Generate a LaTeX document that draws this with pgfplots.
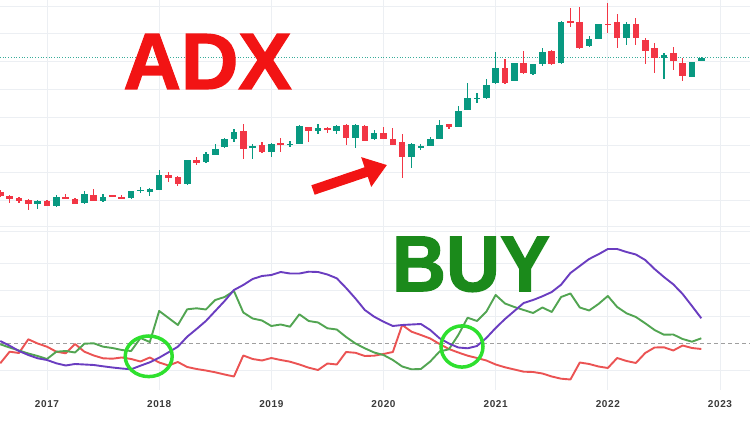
\documentclass[border=0pt]{standalone}
\usepackage{pgfplots}
\pgfplotsset{compat=1.18}
\usepackage{pgfplotstable}
\usepackage{fontspec}
\setmainfont{Liberation Sans}
\newfontfamily\heavyfont[FakeBold=1.6]{Liberation Sans Bold}
\newfontfamily\tickfont[LetterSpace=6]{Liberation Sans Bold}
\usetikzlibrary{arrows.meta}
\definecolor{upc}{HTML}{089981}
\definecolor{dnc}{HTML}{F23645}
\definecolor{gridc}{HTML}{ECEFF3}
\definecolor{adxc}{HTML}{6A3DC0}
\definecolor{pdic}{HTML}{52A552}
\definecolor{mdic}{HTML}{EB5353}
\definecolor{adxred}{HTML}{F21414}
\definecolor{buyg}{HTML}{1B8A1B}
\definecolor{circg}{HTML}{2EE02E}
\definecolor{tickc}{HTML}{3A3A3A}

% candle values (pixel rows of the price pane; larger = lower price)
\pgfplotstableread{
m o h l c
-1 204.3 200 208.7 200.7
1 206 195.3 207.3 197.3
4 203.3 191.3 203.8 194.3
6 201 193.7 202 196.7
9 198.3 190.8 198.8 191.3
10 190.7 187.3 192.7 190
11 191.7 188.5 196 189.3
12 190 170 190.5 175.3
15 184.5 160 185 160.5
17 161.7 151.7 163.3 154.3
18 155 144 155.5 149
19 147.3 138.5 147.8 139
20 139 129 141.7 131.7
22 147.7 144.3 159 146.3
24 152.3 143.2 156.7 143.7
26 144.8 140.7 146.7 144
27 144 125.5 144.5 126
29 130.7 124 134 128.3
31 130.7 125.5 134 126
33 138.3 124.5 148.3 125
35 139.3 130 139.8 133.3
39 156.7 143.2 168.3 143.7
40 147.2 144 150 146.5
41 145.7 136.7 146.2 139
42 139 120 139.5 125
44 126.7 106 127.2 111
45 110 83.3 110.5 98.3
46 98.8 93.3 102.7 98
47 98.3 79.3 98.8 85
48 83.3 52.3 83.8 68.3
50 81 62.8 81.5 63.3
52 74.3 63.8 74.8 64.3
53 64.3 48.3 66.5 51.7
55 63.3 20.7 63.8 21.7
58 46 36 47.3 39.3
59 39 23.8 39.5 24.3
62 37.7 21.7 45 24.3
66 57.7 52.7 79 55
69 76.7 61.8 77.2 62.3
70 61 57.2 61.5 57.7
}\upcandles

\pgfplotstableread{
m o h l c
-5 191.7 190 197.5 196
-4 195.7 195 202.7 199
-3 198.3 197.3 202.7 200.7
-2 200 199.5 210 204.3
0 200.7 200 206.5 205.7
2 197.3 194 199.5 199
3 198.7 198 204.5 204
5 195.3 188.7 201.5 201
7 195.7 195 197 196.3
8 196.7 195 199 198.7
13 174.7 172.3 182.3 177.7
14 177 176.5 186 184.5
16 160 157.3 165 162.7
21 131 124.3 159 149
23 145.3 142.3 152.8 152.3
25 143.3 138.3 152.3 145.3
28 127.3 126.8 141.7 130.7
30 127.7 127.2 133.3 130
32 125 124.5 145 138
34 126 125.5 141.5 141
36 133.3 127.3 139.5 139
37 139 128.3 145.5 145
38 142 134.3 178.3 156.7
43 124.3 123.8 129.3 127.3
49 68.3 59 83.8 83.3
51 62.7 51 73.8 73.3
54 51 50.5 65.5 64.3
56 20.7 8.3 26.7 22.7
57 21.7 7.3 48.8 48.3
60 24 3.3 32.7 25
61 22.3 14.3 48.3 37.7
63 24 18.3 45 38.3
64 40 37.7 64.3 50.7
65 48.3 42.7 73.3 57.7
67 53.3 46.7 70 61
68 62.7 57.7 80.7 76
}\dncandles

\pgfplotsset{candle/.style={draw=none, mark=none, forget plot,
  error bars/.cd, y dir=both, y explicit, error mark=none}}

\begin{document}
\begin{tikzpicture}
\path[use as bounding box] (0,0) rectangle (750pt,422pt);
% ---------------- price pane ----------------
\begin{axis}[
  at={(0pt,422pt)}, anchor=north west,
  width=750pt, height=228pt, scale only axis,
  xmin=-5.028, xmax=75.21, ymin=0, ymax=228, y dir=reverse,
  axis line style={draw=none}, major tick length=0pt,
  xtick={0,12,...,72}, xticklabels={},
  ytick={6.7,33.3,61,89,117,145,172.5,200,226.7}, yticklabels={},
  grid=major, grid style={gridc, line width=0.7pt},
  extra y ticks={57}, extra y tick labels={},
  extra y tick style={grid style={upc!80, dotted, line width=0.6pt}},
]
\addplot[candle, error bar style={line width=1.2pt, draw=upc, solid}]
  table[x=m, y expr={(\thisrow{h}+\thisrow{l})/2}, y error expr={(\thisrow{l}-\thisrow{h})/2}] {\upcandles};
\addplot[candle, error bar style={line width=6.6pt, draw=upc, solid}]
  table[x=m, y expr={(\thisrow{o}+\thisrow{c})/2}, y error expr={max(abs(\thisrow{o}-\thisrow{c})/2,0.7)}] {\upcandles};
\addplot[candle, error bar style={line width=1.2pt, draw=dnc, solid}]
  table[x=m, y expr={(\thisrow{h}+\thisrow{l})/2}, y error expr={(\thisrow{l}-\thisrow{h})/2}] {\dncandles};
\addplot[candle, error bar style={line width=6.6pt, draw=dnc, solid}]
  table[x=m, y expr={(\thisrow{o}+\thisrow{c})/2}, y error expr={max(abs(\thisrow{o}-\thisrow{c})/2,0.7)}] {\dncandles};
\end{axis}
% ---------------- ADX pane ----------------
\begin{axis}[
  at={(0pt,194pt)}, anchor=north west,
  width=750pt, height=162pt, scale only axis,
  xmin=-5.028, xmax=75.21, ymin=228, ymax=390, y dir=reverse,
  axis line style={draw=none}, major tick length=0pt,
  xtick={0,12,...,72},
  xticklabels={2017,2018,2019,2020,2021,2022,2023},
  xticklabel style={font=\tickfont\fontsize{10}{12}\selectfont, text=tickc, yshift=-7pt},
  ytick={231.7,263.3,290,316.7,370}, yticklabels={},
  grid=major, grid style={gridc, line width=0.7pt},
  extra y ticks={343.3}, extra y tick labels={},
  extra y tick style={grid style={gray!75, dash pattern=on 4pt off 3pt, line width=0.7pt}},
]
\addplot[mdic, line width=1.9pt, line join=round] coordinates {
(-5,363.3) (-4,351.7) (-3,353) (-2,339.3) (-1,343.5) (0,346.7) (1,351.7) (2,353.3) (3,344) (4,351.7)
(5,355.5) (6,358.3) (7,358.7) (8,357.5) (9,359) (10,361.5) (11,357.5) (12,362.5) (13,365.5) (14,362)
(15,367) (16,369) (17,370.5) (18,372.3) (19,374.5) (20,376.5) (21,355.5) (22,359) (23,360.5) (24,358)
(25,360) (26,361.7) (27,364.5) (28,367.7) (29,370) (30,363.5) (31,364.5) (32,352) (33,352.8) (34,356)
(35,355.7) (36,354) (37,352) (38,325) (39,331.7) (40,335) (41,338.5) (42,344) (43,349) (44,352.5)
(45,355.7) (46,358) (47,360.5) (48,364.5) (49,367.3) (50,369.5) (51,371.7) (52,372) (53,373.5) (54,376.5)
(55,378.7) (56,379.5) (57,362.5) (58,364) (59,366.5) (60,368) (61,358) (62,361) (63,363) (64,353)
(65,347.5) (66,347.3) (67,350.5) (68,345.5) (69,348) (70,349)};
\addplot[pdic, line width=1.9pt, line join=round] coordinates {
(-5,344.3) (-4,347.5) (-3,350.5) (-2,353.5) (-1,356) (0,359) (1,351.7) (2,351) (3,352.5) (4,343.7)
(5,343.3) (6,346.7) (7,348) (8,350) (9,351) (10,338) (11,342) (12,311) (13,318) (14,325)
(15,309.3) (16,308.3) (17,309.5) (18,300) (19,297) (20,291) (21,312.5) (22,318.5) (23,320.5) (24,326)
(25,324.5) (26,326.7) (27,314.3) (28,321) (29,322.5) (30,328.3) (31,329.5) (32,337) (33,343.5) (34,348.3)
(35,352.5) (36,355) (37,360) (38,366.5) (39,369.3) (40,369) (41,361.5) (42,351.5) (43,349.3) (44,335)
(45,317.7) (46,321) (47,311.7) (48,295) (49,303.5) (50,307) (51,310) (52,313) (53,307.5) (54,312)
(55,297) (56,293.5) (57,307.5) (58,310.5) (59,304) (60,296) (61,307) (62,313.3) (63,317) (64,323.3)
(65,330) (66,334.7) (67,334.5) (68,339) (69,341.7) (70,338.3)};
\addplot[adxc, line width=1.9pt, line join=round] coordinates {
(-5,341) (-4,345.7) (-3,351) (-2,355) (-1,358.3) (0,360) (1,363.3) (2,365.5) (3,364) (4,364.5)
(5,365) (6,366.3) (7,367.5) (8,368.5) (9,369.3) (10,365.7) (11,362.3) (12,357.7) (13,352.3) (14,346.7)
(15,336.7) (16,329) (17,321) (18,311) (19,301) (20,290) (21,285) (22,279) (23,276) (24,275)
(25,272) (26,273.5) (27,273.5) (28,271.7) (29,272) (30,274.5) (31,278.3) (32,288) (33,298.5) (34,310)
(35,316.7) (36,321.7) (37,326) (38,325) (39,324.5) (40,324) (41,330) (42,338.3) (43,343.5) (44,347.5)
(45,348.3) (46,346) (47,338) (48,328) (49,319) (50,311) (51,303) (52,300) (53,296.3) (54,292)
(55,284.7) (56,273) (57,266) (58,259) (59,254.3) (60,249) (61,249) (62,252) (63,254.5) (64,260)
(65,269) (66,277) (67,284.3) (68,294) (69,306) (70,318.3)};
\end{axis}
% ---------------- annotations ----------------
\node[inner sep=0pt, anchor=center, text=adxred, font=\heavyfont\fontsize{79.6}{80}\selectfont] at (207.5pt,360.5pt) {ADX};
\node[inner sep=0pt, anchor=center, text=buyg, font=\heavyfont\fontsize{79.2}{80}\selectfont] at (471pt,157.7pt) {\scalebox{0.945}[1]{BUY}};
\draw[adxred, line width=10pt, -{Triangle[length=22pt, width=30pt]}] (313pt,232pt) -- (387pt,257pt);
\draw[circg, line width=3.5pt] (148.7pt,65.7pt) ellipse [x radius=23.5pt, y radius=20.3pt];
\draw[circg, line width=3.5pt] (462pt,75.5pt) ellipse [x radius=21pt, y radius=20.6pt];
\end{tikzpicture}
\end{document}
